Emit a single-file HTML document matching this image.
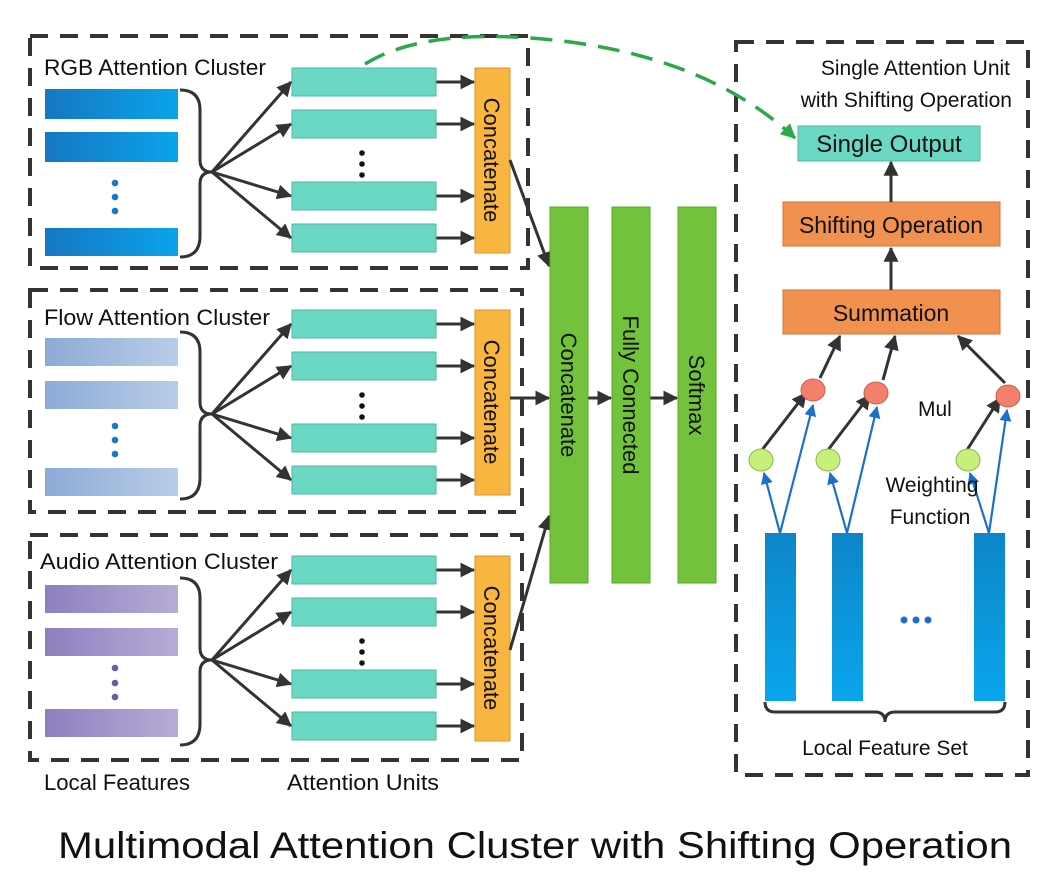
<!DOCTYPE html>
<html><head><meta charset="utf-8"><style>
html,body{margin:0;padding:0;background:#fff}
svg{display:block}
text{font-family:"Liberation Sans",sans-serif;fill:#111}
</style></head><body>
<svg width="1044" height="876" viewBox="0 0 1044 876" xmlns="http://www.w3.org/2000/svg">
<defs>
<marker id="a" viewBox="0 0 12 12" refX="11" refY="6" markerWidth="15" markerHeight="15" orient="auto" markerUnits="userSpaceOnUse"><path d="M0,0 L12,6 L0,12 z" fill="#333"/></marker>
<marker id="ab" viewBox="0 0 12 12" refX="11" refY="6" markerWidth="12" markerHeight="12" orient="auto" markerUnits="userSpaceOnUse"><path d="M0,0 L12,6 L0,12 z" fill="#1a6fd0"/></marker>
<marker id="ag" viewBox="0 0 12 12" refX="11" refY="6" markerWidth="15" markerHeight="15" orient="auto" markerUnits="userSpaceOnUse"><path d="M0,0 L12,6 L0,12 z" fill="#2aa84a"/></marker>
<linearGradient id="gR" x1="0" x2="1"><stop offset="0" stop-color="#1677c2"/><stop offset="1" stop-color="#0aa3ea"/></linearGradient>
<linearGradient id="gF" x1="0" x2="1"><stop offset="0" stop-color="#8cabd6"/><stop offset="1" stop-color="#b9cde8"/></linearGradient>
<linearGradient id="gA" x1="0" x2="1"><stop offset="0" stop-color="#8e7fbf"/><stop offset="1" stop-color="#b7acd6"/></linearGradient>
<linearGradient id="gV" x1="0" x2="0" y1="0" y2="1"><stop offset="0" stop-color="#0d86c8"/><stop offset="1" stop-color="#0aa5ec"/></linearGradient>
<g id="cl">
<g stroke="#333" stroke-width="3" fill="none">
<path d="M180,70 Q200,70 200,90 L200,140 Q200,152 212,152 Q200,152 200,164 L200,216 Q200,237 180,237"/>
</g>
<g stroke="#333" stroke-width="3" marker-end="url(#a)">
<line x1="212" y1="152" x2="291" y2="62"/>
<line x1="212" y1="152" x2="291" y2="104"/>
<line x1="212" y1="152" x2="291" y2="176"/>
<line x1="212" y1="152" x2="291" y2="218"/>
<line x1="436" y1="62" x2="474" y2="62"/>
<line x1="436" y1="104" x2="474" y2="104"/>
<line x1="436" y1="176" x2="474" y2="176"/>
<line x1="436" y1="218" x2="474" y2="218"/>
</g>
<g fill="#6ad8c3" stroke="#52b8a4" stroke-width="1">
<rect x="292" y="48" width="144" height="28"/>
<rect x="292" y="90" width="144" height="28"/>
<rect x="292" y="162" width="144" height="28"/>
<rect x="292" y="204" width="144" height="28"/>
</g>
<g fill="#111"><circle cx="362" cy="133" r="2.8"/><circle cx="362" cy="144" r="2.8"/><circle cx="362" cy="155" r="2.8"/></g>
<rect x="475" y="48" width="35" height="185" fill="#f8b540" stroke="#d8962a"/>
<text transform="translate(484,140) rotate(90)" text-anchor="middle" font-size="22">Concatenate</text>
</g>
</defs>

<g fill="none" stroke="#333" stroke-width="4" stroke-dasharray="18,12">
<rect x="30" y="36" width="498" height="232"/>
<rect x="30" y="290" width="492" height="222"/>
<rect x="30" y="535" width="492" height="225"/>
<rect x="736" y="42" width="292" height="733"/>
</g>

<text x="44" y="75" font-size="22" textLength="222" lengthAdjust="spacingAndGlyphs">RGB Attention Cluster</text>
<g fill="url(#gR)"><rect x="45" y="89" width="133" height="30"/><rect x="45" y="132" width="133" height="30"/><rect x="45" y="228" width="133" height="28"/></g>
<g fill="#1579c6"><circle cx="115" cy="183" r="3.3"/><circle cx="115" cy="197" r="3.3"/><circle cx="115" cy="211" r="3.3"/></g>
<use href="#cl" y="20"/>

<text x="44" y="325" font-size="22" textLength="226" lengthAdjust="spacingAndGlyphs">Flow Attention Cluster</text>
<g fill="url(#gF)"><rect x="45" y="338" width="133" height="28"/><rect x="45" y="381" width="133" height="28"/><rect x="45" y="468" width="133" height="28"/></g>
<g fill="#1a7ac0"><circle cx="115" cy="426" r="3.3"/><circle cx="115" cy="440" r="3.3"/><circle cx="115" cy="454" r="3.3"/></g>
<use href="#cl" y="262"/>

<text x="40" y="569" font-size="22" textLength="238" lengthAdjust="spacingAndGlyphs">Audio Attention Cluster</text>
<g fill="url(#gA)"><rect x="45" y="585" width="133" height="28"/><rect x="45" y="628" width="133" height="28"/><rect x="45" y="709" width="133" height="28"/></g>
<g fill="#6a5aa8"><circle cx="115" cy="668" r="3.3"/><circle cx="115" cy="683" r="3.3"/><circle cx="115" cy="697" r="3.3"/></g>
<use href="#cl" y="508"/>

<text x="44" y="790" font-size="22" textLength="146" lengthAdjust="spacingAndGlyphs">Local Features</text>
<text x="287" y="790" font-size="22" textLength="152" lengthAdjust="spacingAndGlyphs">Attention Units</text>

<g stroke="#333" stroke-width="3" marker-end="url(#a)">
<line x1="510" y1="160" x2="549" y2="266"/>
<line x1="510" y1="398" x2="549" y2="398"/>
<line x1="510" y1="650" x2="549" y2="516"/>
<line x1="588" y1="398" x2="611" y2="398"/>
<line x1="650" y1="398" x2="677" y2="398"/>
</g>
<g fill="#72c23c" stroke="#5aa52c">
<rect x="550" y="207" width="38" height="376"/>
<rect x="612" y="207" width="38" height="376"/>
<rect x="678" y="207" width="38" height="376"/>
</g>
<text transform="translate(561,395) rotate(90)" text-anchor="middle" font-size="22">Concatenate</text>
<text transform="translate(623,395) rotate(90)" text-anchor="middle" font-size="22">Fully Connected</text>
<text transform="translate(689,395) rotate(90)" text-anchor="middle" font-size="22">Softmax</text>

<path d="M365,64 Q420,30 530,38 Q700,50 795,138" fill="none" stroke="#2aa84a" stroke-width="3.5" stroke-dasharray="22,12" marker-end="url(#ag)"/>

<text x="1010" y="75" font-size="21" text-anchor="end">Single Attention Unit</text>
<text x="1012" y="107" font-size="21" text-anchor="end">with Shifting Operation</text>
<rect x="798" y="126" width="182" height="35" fill="#6ad8c3" stroke="#52b8a4"/>
<text x="889" y="152" font-size="24" text-anchor="middle">Single Output</text>
<rect x="783" y="202" width="217" height="44" fill="#f0914f" stroke="#d07638"/>
<text x="891" y="233" font-size="23" text-anchor="middle">Shifting Operation</text>
<rect x="783" y="290" width="217" height="44" fill="#f0914f" stroke="#d07638"/>
<text x="891" y="321" font-size="23" text-anchor="middle">Summation</text>
<g stroke="#333" stroke-width="3" marker-end="url(#a)">
<line x1="891" y1="202" x2="891" y2="162"/>
<line x1="891" y1="290" x2="891" y2="248"/>
<line x1="820" y1="378" x2="840" y2="336"/>
<line x1="883" y1="380" x2="895" y2="336"/>
<line x1="1005" y1="383" x2="958" y2="336"/>
<line x1="762" y1="450" x2="806" y2="393"/>
<line x1="828" y1="450" x2="870" y2="395"/>
<line x1="967" y1="450" x2="1000" y2="398"/>
</g>
<g stroke="#1a6fd0" stroke-width="2.2" marker-end="url(#ab)">
<line x1="780" y1="533" x2="764" y2="473"/>
<line x1="780" y1="533" x2="813" y2="405"/>
<line x1="847" y1="533" x2="830" y2="473"/>
<line x1="847" y1="533" x2="877" y2="407"/>
<line x1="989" y1="533" x2="970" y2="473"/>
<line x1="989" y1="533" x2="1007" y2="410"/>
</g>
<g fill="#f2806a" stroke="#c8604a"><ellipse cx="813" cy="390" rx="12" ry="11"/><ellipse cx="876" cy="393" rx="12" ry="11"/><ellipse cx="1008" cy="396" rx="12" ry="11"/></g>
<g fill="#c6f07a" stroke="#8ab848"><ellipse cx="761" cy="460" rx="12" ry="11"/><ellipse cx="828" cy="460" rx="12" ry="11"/><ellipse cx="968" cy="460" rx="12" ry="11"/></g>
<text x="918" y="416" font-size="21">Mul</text>
<text x="932" y="492" font-size="21" text-anchor="middle">Weighting</text>
<text x="930" y="524" font-size="21" text-anchor="middle">Function</text>
<g fill="url(#gV)"><rect x="765" y="533" width="31" height="168"/><rect x="832" y="533" width="31" height="168"/><rect x="974" y="533" width="31" height="168"/></g>
<g fill="#1a6fd0"><circle cx="904" cy="620" r="3.5"/><circle cx="916" cy="620" r="3.5"/><circle cx="928" cy="620" r="3.5"/></g>
<path d="M765,702 Q765,712 775,712 L875,712 Q885,712 885,722 Q885,712 895,712 L995,712 Q1005,712 1005,702" fill="none" stroke="#333" stroke-width="3"/>
<text x="885" y="755" font-size="21" text-anchor="middle">Local Feature Set</text>

<text x="535" y="858" font-size="37" text-anchor="middle" textLength="954" lengthAdjust="spacingAndGlyphs" fill="#222">Multimodal Attention Cluster with Shifting Operation</text>
</svg>
</body></html>
